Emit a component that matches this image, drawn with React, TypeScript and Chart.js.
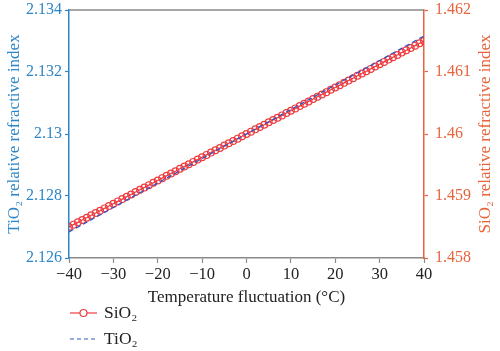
import React, { useEffect, useRef } from "react";
import { Chart, registerables } from "chart.js";

Chart.register(...registerables);

const temperatures = [
  -40, -39, -38, -37, -36, -35, -34, -33, -32, -31, -30, -29, -28, -27, -26, -25, -24, -23, -22, -21,
  -20, -19, -18, -17, -16, -15, -14, -13, -12, -11, -10, -9, -8, -7, -6, -5, -4, -3, -2, -1,
  0, 1, 2, 3, 4, 5, 6, 7, 8, 9, 10, 11, 12, 13, 14, 15, 16, 17, 18, 19,
  20, 21, 22, 23, 24, 25, 26, 27, 28, 29, 30, 31, 32, 33, 34, 35, 36, 37, 38, 39, 40,
];

const sio2Index = [
  1.4585, 1.458538, 1.458575, 1.458613, 1.45865, 1.458688, 1.458725, 1.458763, 1.4588, 1.458838,
  1.458875, 1.458913, 1.45895, 1.458988, 1.459025, 1.459063, 1.4591, 1.459138, 1.459175, 1.459213,
  1.45925, 1.459288, 1.459325, 1.459363, 1.4594, 1.459438, 1.459475, 1.459513, 1.45955, 1.459588,
  1.459625, 1.459663, 1.4597, 1.459738, 1.459775, 1.459813, 1.45985, 1.459888, 1.459925, 1.459963,
  1.46, 1.460038, 1.460075, 1.460113, 1.46015, 1.460188, 1.460225, 1.460263, 1.4603, 1.460338,
  1.460375, 1.460413, 1.46045, 1.460488, 1.460525, 1.460563, 1.4606, 1.460638, 1.460675, 1.460713,
  1.46075, 1.460788, 1.460825, 1.460863, 1.4609, 1.460938, 1.460975, 1.461013, 1.46105, 1.461088,
  1.461125, 1.461163, 1.4612, 1.461238, 1.461275, 1.461313, 1.46135, 1.461388, 1.461425, 1.461463,
  1.4615,
];

const tio2Temperatures = [-40, -30, -20, -10, 0, 10, 20, 30, 40];
const tio2Index = [2.12684, 2.12763, 2.12842, 2.12921, 2.13, 2.13079, 2.13158, 2.13237, 2.13316];

const xTicks = [-40, -30, -20, -10, 0, 10, 20, 30, 40];
const leftTicks = [2.126, 2.128, 2.13, 2.132, 2.134];
const rightTicks = [1.458, 1.459, 1.46, 1.461, 1.462];

const BLUE_AXIS = "#2f86c6";
const ORANGE_AXIS = "#e8643c";
const RED = "#ee3b3f";
const DASH_BLUE = "#3556c4";
const GRAY = "#8a8a8a";
const FONT = "'Liberation Serif', 'Times New Roman', serif";
const RIGHT_TITLE = "SiO₂ relative refractive index";

const legendPlugin = {
  id: "customLegend",
  afterDraw(chart: any) {
    const ctx = chart.ctx;
    const { left, right, top, bottom } = chart.chartArea;
    ctx.save();
    // top frame line
    ctx.strokeStyle = GRAY;
    ctx.lineWidth = 1.5;
    ctx.beginPath();
    ctx.moveTo(left, top);
    ctx.lineTo(right, top);
    ctx.stroke();

    // right axis title, reading bottom-to-top
    ctx.save();
    ctx.translate(486, (top + bottom) / 2);
    ctx.rotate(-Math.PI / 2);
    ctx.font = `17px ${FONT}`;
    ctx.fillStyle = ORANGE_AXIS;
    ctx.textAlign = "center";
    ctx.textBaseline = "middle";
    ctx.fillText(RIGHT_TITLE, 0, 0);
    ctx.restore();

    const items = [
      { label: "SiO₂", color: RED, dash: [] as number[], marker: true, y: 313 },
      { label: "TiO₂", color: DASH_BLUE, dash: [4, 3], marker: false, y: 339 },
    ];
    ctx.font = `17.5px ${FONT}`;
    ctx.textBaseline = "middle";
    ctx.textAlign = "left";
    items.forEach((it) => {
      ctx.strokeStyle = it.color;
      ctx.lineWidth = 1.2;
      ctx.setLineDash(it.dash);
      ctx.beginPath();
      ctx.moveTo(70, it.y);
      ctx.lineTo(97, it.y);
      ctx.stroke();
      ctx.setLineDash([]);
      if (it.marker) {
        ctx.fillStyle = "#fff";
        ctx.beginPath();
        ctx.arc(83.5, it.y, 3.5, 0, Math.PI * 2);
        ctx.fill();
        ctx.stroke();
      }
      ctx.fillStyle = "#222";
      ctx.fillText(it.label, 104, it.y);
    });
    ctx.restore();
  },
};

export default function App() {
  const ref = useRef<HTMLCanvasElement>(null);
  useEffect(() => {
    if (!ref.current) return;
    const chart = new Chart(ref.current, {
      type: "line",
      data: {
        datasets: [
          {
            label: "SiO₂",
            data: temperatures.map((t, i) => ({ x: t, y: sio2Index[i] })),
            yAxisID: "yRight",
            borderColor: RED,
            borderWidth: 1.2,
            pointRadius: 3.4,
            pointBorderWidth: 1.2,
            pointBackgroundColor: "rgba(255,255,255,0)",
            pointBorderColor: RED,
            order: 1,
          },
          {
            label: "TiO₂",
            data: tio2Temperatures.map((t, i) => ({ x: t, y: tio2Index[i] })),
            yAxisID: "yLeft",
            borderColor: DASH_BLUE,
            borderWidth: 1.3,
            borderDash: [5, 3],
            pointRadius: 0,
            order: 0,
          },
        ],
      },
      options: {
        animation: false,
        responsive: false,
        layout: { padding: { top: 10, bottom: 43, left: 0, right: 0 } },
        plugins: { legend: { display: false }, tooltip: { enabled: false } },
        scales: {
          x: {
            type: "linear",
            min: -40,
            max: 40,
            afterBuildTicks: (s: any) => {
              s.ticks = xTicks.map((v) => ({ value: v }));
            },
            afterFit: (s: any) => {
              s.height = 50;
              s.paddingLeft = 0;
              s.paddingRight = 0;
            },
            grid: { drawOnChartArea: false, color: GRAY, tickLength: 5, tickWidth: 1.2 },
            border: { color: GRAY, width: 1.5 },
            ticks: {
              color: "#222",
              font: { family: FONT, size: 16.5 },
              padding: 2,
              maxRotation: 0,
              callback: (v: any) => (Number(v) < 0 ? "−" + Math.abs(Number(v)) : String(v)),
            },
            title: {
              display: true,
              text: "Temperature fluctuation (°C)",
              color: "#222",
              font: { family: FONT, size: 17 },
              padding: { top: 0, bottom: 0 },
            },
          },
          yLeft: {
            type: "linear",
            position: "left",
            min: 2.126,
            max: 2.134,
            afterBuildTicks: (s: any) => {
              s.ticks = leftTicks.map((v) => ({ value: v }));
            },
            afterFit: (s: any) => {
              s.width = 69;
              s.paddingTop = 0;
              s.paddingBottom = 0;
            },
            grid: { drawOnChartArea: false, color: BLUE_AXIS, tickLength: 4, tickWidth: 1.2 },
            border: { color: BLUE_AXIS, width: 1.5 },
            ticks: {
              color: BLUE_AXIS,
              font: { family: FONT, size: 16 },
              padding: 3,
              callback: (v: any) => String(Number(Number(v).toFixed(3))),
            },
            title: {
              display: true,
              text: "TiO₂ relative refractive index",
              color: BLUE_AXIS,
              font: { family: FONT, size: 17 },
              padding: { top: 4, bottom: 0 },
            },
          },
          yRight: {
            type: "linear",
            position: "right",
            min: 1.458,
            max: 1.462,
            afterBuildTicks: (s: any) => {
              s.ticks = rightTicks.map((v) => ({ value: v }));
            },
            afterFit: (s: any) => {
              s.width = 76;
              s.paddingTop = 0;
              s.paddingBottom = 0;
            },
            grid: { drawOnChartArea: false, color: ORANGE_AXIS, tickLength: 4, tickWidth: 1.2 },
            border: { color: ORANGE_AXIS, width: 1.5 },
            ticks: {
              color: ORANGE_AXIS,
              font: { family: FONT, size: 16 },
              padding: 7,
              callback: (v: any) => String(Number(Number(v).toFixed(3))),
            },
            title: { display: false },
          },
        },
      },
      plugins: [legendPlugin],
    } as any);
    return () => chart.destroy();
  }, []);
  return (
    <div style={{ position: "fixed", left: 0, top: 0, width: 500, height: 351, background: "#fff" }}>
      <canvas ref={ref} width={500} height={351} style={{ width: 500, height: 351 }} />
    </div>
  );
}
